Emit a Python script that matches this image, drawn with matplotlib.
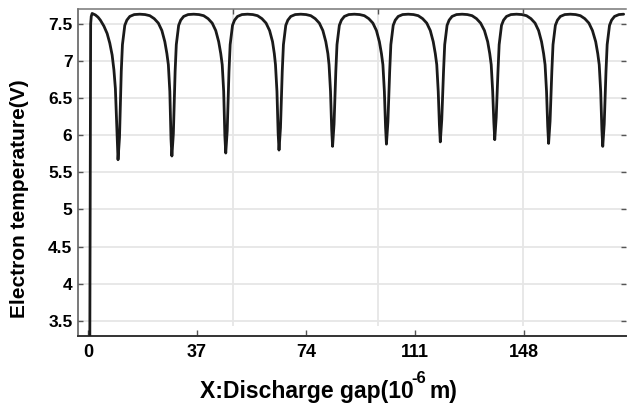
import matplotlib
matplotlib.use("Agg")
import matplotlib.pyplot as plt

plt.rcParams['font.family'] = ['Liberation Sans', 'DejaVu Sans']
plt.rcParams['font.weight'] = 'bold'

# ---- data ----
gap_x = [
    0.6, 0.9, 1.1, 1.4, 2.5, 3.4, 4.2, 5.4, 6.5, 7.4, 8.2, 8.8, 9.3, 9.85, 10.2,
    10.7, 11.3, 11.7, 12.5, 13.2, 14.2, 15.7, 17.6, 19.4, 21.0, 22.5, 23.9, 25.1, 26.1, 26.8, 27.3, 27.8, 28.2, 28.5,
    29.0, 29.6, 30.0, 30.8, 31.5, 32.5, 34.0, 35.9, 37.7, 39.3, 40.8, 42.2, 43.4, 44.4, 45.1, 45.6, 46.1, 46.5, 46.8,
    47.3, 47.9, 48.3, 49.1, 49.8, 50.8, 52.3, 54.2, 56.0, 57.6, 59.1, 60.5, 61.7, 62.7, 63.3, 63.7, 64.2, 64.6, 64.9,
    65.4, 66.0, 66.4, 67.2, 67.9, 68.9, 70.4, 72.3, 74.1, 75.7, 77.2, 78.6, 79.8, 80.8, 81.5, 81.9, 82.4, 82.8, 83.1,
    83.6, 84.2, 84.6, 85.4, 86.1, 87.1, 88.6, 90.5, 92.3, 93.9, 95.4, 96.8, 98.0, 99.0, 99.7, 100.2, 100.7, 101.1, 101.4,
    101.9, 102.5, 102.9, 103.7, 104.4, 105.4, 106.9, 108.8, 110.6, 112.2, 113.7, 115.1, 116.3, 117.3, 118.0, 118.5, 119.0, 119.4, 119.7,
    120.2, 120.8, 121.2, 122.0, 122.7, 123.7, 125.2, 127.1, 128.9, 130.5, 132.0, 133.4, 134.7, 135.8, 136.5, 137.0, 137.5, 137.9, 138.2,
    138.7, 139.3, 139.7, 140.5, 141.2, 142.2, 143.7, 145.6, 147.4, 149.0, 150.5, 151.9, 153.1, 154.1, 154.8, 155.3, 155.8, 156.2, 156.5,
    157.0, 157.6, 158.0, 158.8, 159.5, 160.5, 162.0, 163.9, 165.7, 167.3, 168.8, 170.2, 171.4, 172.5, 173.2, 173.7, 174.2, 174.6, 174.9,
    175.4, 176.0, 176.4, 177.2, 177.9, 178.9, 180.4, 182.0,
]
electron_temp = [
    3.0, 7.5, 7.6, 7.64, 7.62, 7.59, 7.55, 7.47, 7.37, 7.24, 7.08, 6.88, 6.63, 6.05, 5.67,
    5.97, 6.86, 7.22, 7.48, 7.55, 7.60, 7.625, 7.63, 7.625, 7.61, 7.57, 7.51, 7.41, 7.26, 7.10, 6.95, 6.59, 5.95, 5.72,
    6.02, 6.86, 7.22, 7.48, 7.55, 7.60, 7.625, 7.63, 7.625, 7.61, 7.57, 7.51, 7.41, 7.26, 7.10, 6.95, 6.59, 5.99, 5.76,
    6.06, 6.86, 7.22, 7.48, 7.55, 7.60, 7.625, 7.63, 7.625, 7.61, 7.57, 7.51, 7.41, 7.26, 7.10, 6.95, 6.59, 6.03, 5.80,
    6.10, 6.86, 7.22, 7.48, 7.55, 7.60, 7.625, 7.63, 7.625, 7.61, 7.57, 7.51, 7.41, 7.26, 7.10, 6.95, 6.59, 6.08, 5.85,
    6.15, 6.86, 7.22, 7.48, 7.55, 7.60, 7.625, 7.63, 7.625, 7.61, 7.57, 7.51, 7.41, 7.26, 7.10, 6.95, 6.59, 6.11, 5.88,
    6.18, 6.86, 7.22, 7.48, 7.55, 7.60, 7.625, 7.63, 7.625, 7.61, 7.57, 7.51, 7.41, 7.26, 7.10, 6.95, 6.59, 6.14, 5.91,
    6.21, 6.86, 7.22, 7.48, 7.55, 7.60, 7.625, 7.63, 7.625, 7.61, 7.57, 7.51, 7.41, 7.26, 7.10, 6.95, 6.59, 6.17, 5.94,
    6.24, 6.86, 7.22, 7.48, 7.55, 7.60, 7.625, 7.63, 7.625, 7.61, 7.57, 7.51, 7.41, 7.26, 7.10, 6.95, 6.59, 6.12, 5.89,
    6.19, 6.86, 7.22, 7.48, 7.55, 7.60, 7.625, 7.63, 7.625, 7.61, 7.57, 7.51, 7.41, 7.26, 7.10, 6.95, 6.59, 6.08, 5.85,
    6.15, 6.86, 7.22, 7.48, 7.55, 7.60, 7.625, 7.63,
]
x_ticks = [0, 37, 74, 111, 148]
y_ticks = [3.5, 4, 4.5, 5, 5.5, 6, 6.5, 7, 7.5]
y_tick_labels = ['3.5', '4', '4.5', '5', '5.5', '6', '6.5', '7', '7.5']
v_grid_x = [49.4, 98.6, 147.9]

W, H = 627, 412
fig = plt.figure(figsize=(W / 100, H / 100), dpi=100)
ax = fig.add_axes([78 / W, 1 - 335.7 / H, 548 / W, (335.7 - 9) / H])

ax.set_xlim(-3.4, 182.8)
ax.set_ylim(3.3, 7.7)

ax.set_yticks(y_ticks)
ax.set_yticklabels(y_tick_labels)
ax.set_xticks(x_ticks)
ax.set_xticklabels([str(t) for t in x_ticks])

ax.grid(axis='y', color='#e6e6e6', lw=1.3, zorder=0)
ax.vlines(v_grid_x, 3.43, 7.7, colors='#e6e6e6', lw=1.3, zorder=0)

ax.plot(gap_x, electron_temp, color='#1a1a1a', lw=2.0, zorder=3,
        solid_joinstyle='round', solid_capstyle='round')

ax.tick_params(axis='x', direction='in', length=4, width=1, color='#555555',
               labelsize=13, pad=6, top=False)
ax.tick_params(axis='y', direction='in', length=3.5, width=1, color='#555555',
               labelsize=12.5, pad=4, right=True)
for lab in ax.get_xticklabels() + ax.get_yticklabels():
    lab.set_fontweight('bold')

ax.spines['bottom'].set_color('#333333')
ax.spines['bottom'].set_linewidth(1.4)
ax.spines['left'].set_color('#555555')
ax.spines['left'].set_linewidth(1.1)
ax.spines['top'].set_color('#777777')
ax.spines['top'].set_linewidth(1.1)
ax.spines['right'].set_visible(False)

# top ticks at the vertical grid positions
axt = ax.twiny()
axt.set_xlim(ax.get_xlim())
axt.set_xticks(v_grid_x)
axt.tick_params(axis='x', direction='in', length=3.5, width=1, color='#555555',
                labeltop=False)
for s in axt.spines.values():
    s.set_visible(False)

# y label
fig.text(20 / W, 1 - 198.5 / H, 'Electron temperature(V)', rotation=90,
         ha='center', va='center', fontsize=15, fontweight='bold')

# x label in pieces (raised superscript)
fig.canvas.draw()
r = fig.canvas.get_renderer()
t1 = fig.text(200 / W, 1 - 397.7 / H, 'X:Discharge gap(10', ha='left',
              va='baseline', fontsize=16.5, fontweight='bold')
e1 = t1.get_window_extent(r)
t2 = fig.text((e1.x1 - 2) / W, 1 - 383 / H, '-6', ha='left', va='baseline',
              fontsize=12, fontweight='bold')
e2 = t2.get_window_extent(r)
t3 = fig.text((e2.x1 + 3) / W, 1 - 397.7 / H, 'm)', ha='left', va='baseline',
              fontsize=16.5, fontweight='bold')

fig.savefig('out.png', dpi=100)
